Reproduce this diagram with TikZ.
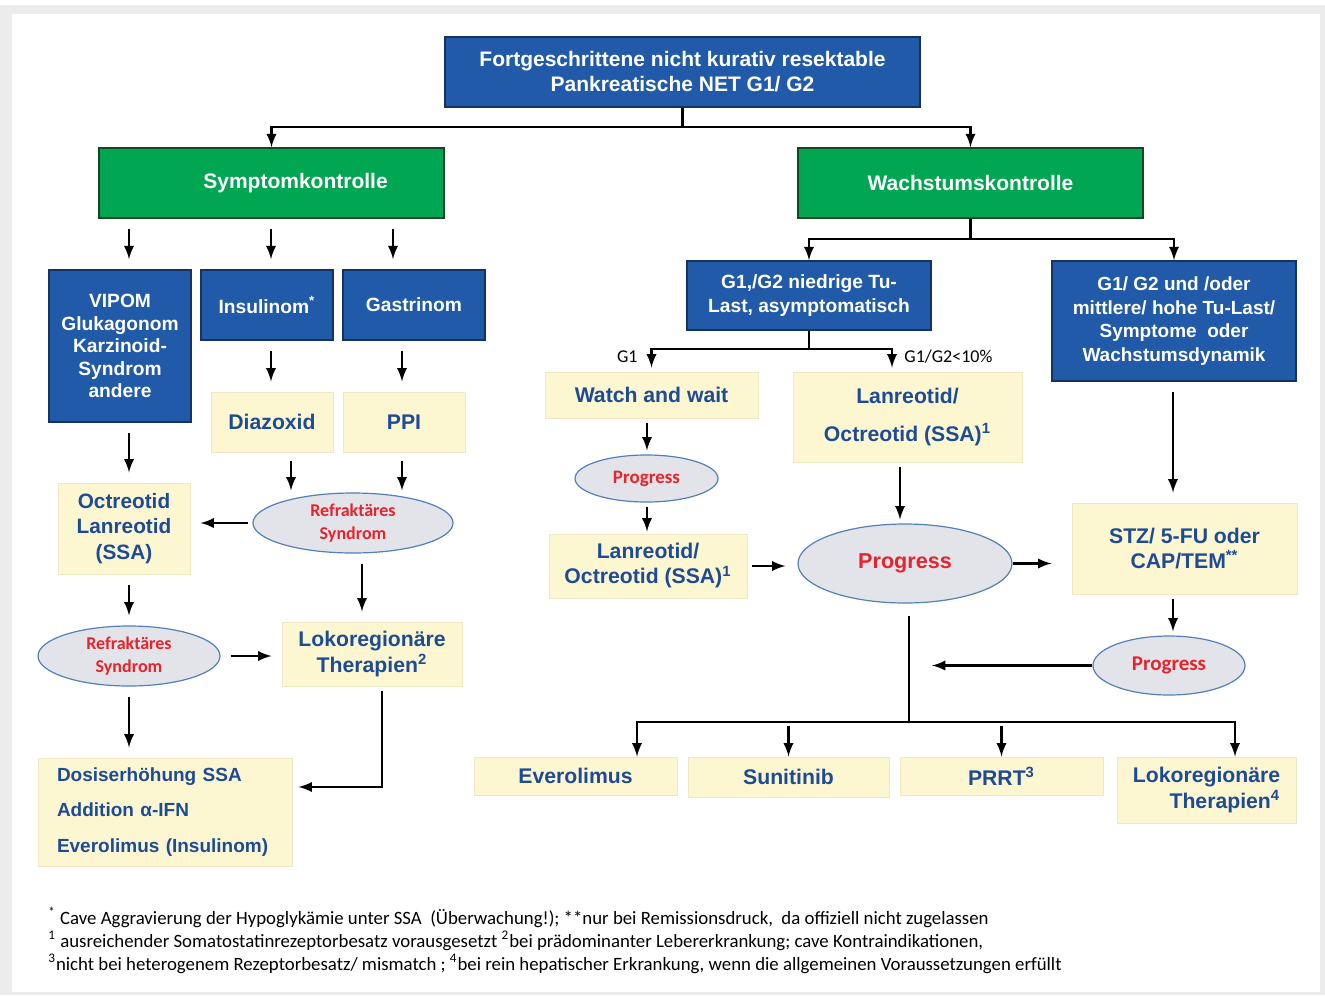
\documentclass[tikz,border=0pt]{standalone}
\usepackage{fontspec}
\setmainfont{Liberation Sans}
\newfontfamily\cbri{Carlito}
\usetikzlibrary{calc,shapes.geometric}

\definecolor{framegray}{RGB}{236,236,236}
\definecolor{boxblue}{RGB}{32,90,168}
\definecolor{boxline}{RGB}{22,50,96}
\definecolor{boxgreen}{RGB}{0,166,81}
\definecolor{greenline}{RGB}{22,70,40}
\definecolor{boxyellow}{RGB}{252,247,208}
\definecolor{yellowline}{RGB}{238,232,196}
\definecolor{textblue}{RGB}{30,75,150}
\definecolor{ellfill}{RGB}{226,228,233}
\definecolor{ellline}{RGB}{84,128,186}
\definecolor{textred}{RGB}{232,35,45}

\begin{document}
\begin{tikzpicture}[x=0.5pt,y=-0.5pt,>=latex,
      every node/.style={inner sep=0pt,align=center},
      hbox/.style={rectangle,draw=boxline,fill=boxblue,text=white,line width=0.8pt,
        font=\bfseries\fontsize{9.6}{11.3}\selectfont},
      gbox/.style={rectangle,draw=greenline,fill=boxgreen,text=white,line width=0.8pt,
        font=\bfseries\fontsize{10.5}{12.5}\selectfont},
      ybox/.style={rectangle,draw=yellowline,fill=boxyellow,text=textblue,line width=0.5pt,
        font=\bfseries\fontsize{10.6}{12.6}\selectfont},
      ebox/.style={ellipse,draw=ellline,fill=ellfill,text=textred,line width=0.6pt,
        font=\cbri\bfseries\fontsize{9}{11.5}\selectfont},
      arr/.style={->,line width=1.3pt},
      gap/.style={shorten <=5pt,shorten >=5pt}]

    \useasboundingbox (0,0) rectangle (1325,995);
    \fill[framegray] (0,0) rectangle (1325,995);
    \fill[white] (0,0) rectangle (1325,5);
    \fill[white] (12,14) rectangle (1320,992);

    \node[hbox,minimum width=237.5pt,minimum height=35pt,font=\bfseries\fontsize{10.5}{12.5}\selectfont] (top) at (682.5,72)
      {Fortgeschrittene nicht kurativ resektable\\Pankreatische NET G1/ G2};
    \node[gbox,minimum width=172.5pt,minimum height=35pt] (symp) at (271.5,183) {\hspace*{24pt}Symptomkontrolle};
    \node[gbox,minimum width=172.5pt,minimum height=35pt] (wachs) at (970.5,183) {Wachstumskontrolle};

    \node[hbox,minimum width=71pt,minimum height=76pt] (vipom) at (120,346) {VIPOM\\Glukagonom\\Karzinoid-\\Syndrom\\andere};
    \node[hbox,minimum width=66pt,minimum height=35pt] (insul) at (267,305) {Insulinom\textsuperscript{*}};
    \node[hbox,minimum width=71pt,minimum height=35pt] (gastr) at (414,305) {Gastrinom};
    \node[ybox,minimum width=61pt,minimum height=30pt] (diaz) at (272,422) {Diazoxid};
    \node[ybox,minimum width=61pt,minimum height=30pt] (ppi) at (404,422) {PPI};
    \node[ebox,minimum width=100pt,minimum height=30pt] (refrA) at (353,523) {Refraktäres\\Syndrom};
    \node[ybox,minimum width=66pt,minimum height=45.5pt,font=\bfseries\fontsize{10.4}{12.75}\selectfont] (octr) at (124,528.5)
      {Octreotid\\Lanreotid\\(SSA)};
    \node[ebox,minimum width=91pt,minimum height=30pt] (refrB) at (129,656) {Refraktäres\\Syndrom};
    \node[ybox,minimum width=90pt,minimum height=32pt,font=\bfseries\fontsize{10.6}{13}\selectfont] (lokoA) at (372,654)
      {Lokoregionäre\\Therapien\textsuperscript{2}};
    \node[ybox,minimum width=127pt,minimum height=54pt,text width=108pt,align=left,
      font=\bfseries\fontsize{9.5}{17.75}\selectfont] (dosis) at (165,812)
      {Dosiserhöhung SSA\\Addition α-IFN\\Everolimus (Insulinom)};

    \node[hbox,minimum width=122pt,minimum height=34.5pt,font=\bfseries\fontsize{9.6}{12}\selectfont] (nied) at (809,295.5)
      {G1,/G2 niedrige Tu-\\Last, asymptomatisch};
    \node[hbox,minimum width=122pt,minimum height=60pt,font=\bfseries\fontsize{9.5}{11.8}\selectfont] (mittl) at (1174,321)
      {G1/ G2 und /oder\\mittlere/ hohe Tu-Last/\\Symptome\ \ oder\\Wachstumsdynamik};
    \node[ybox,minimum width=106.5pt,minimum height=23pt] (watch) at (651.5,395) {Watch and wait};
    \node[ybox,minimum width=114.5pt,minimum height=45pt] (lanA) at (907.5,417) {Lanreotid/\\[6pt]Octreotid (SSA)\textsuperscript{1}};
    \node[ebox,minimum width=71.5pt,minimum height=23.5pt,font=\cbri\bfseries\fontsize{9.5}{11.5}\selectfont] (progA) at (646.5,478.5) {Progress};
    \node[ybox,minimum width=99pt,minimum height=32pt,font=\bfseries\fontsize{10.6}{12.5}\selectfont] (lanB) at (648,566)
      {Lanreotid/\\Octreotid (SSA)\textsuperscript{1}};
    \node[ebox,minimum width=107pt,minimum height=39.5pt,font=\bfseries\fontsize{10.8}{12}\selectfont] (progB) at (905,563.5) {Progress};
    \node[ybox,minimum width=112.5pt,minimum height=45.5pt] (stz) at (1184.5,548.5) {STZ/ 5-FU oder\\CAP/TEM\textsuperscript{**}};
    \node[ebox,minimum width=76pt,minimum height=29.5pt,font=\cbri\bfseries\fontsize{10.5}{12}\selectfont] (progC) at (1169,665.5) {Progress};
    \node[ybox,minimum width=101.5pt,minimum height=19pt] (ever) at (575.5,776) {Everolimus};
    \node[ybox,minimum width=100.5pt,minimum height=20pt] (suni) at (788.5,777) {Sunitinib};
    \node[ybox,minimum width=101.5pt,minimum height=19pt] (prrt) at (1001.5,776) {PRRT\textsuperscript{3}};
    \node[ybox,minimum width=89.5pt,minimum height=33pt,align=right] (lokoB) at (1206.5,790) {Lokoregionäre\\Therapien\textsuperscript{4}};

    \node[font=\cbri\fontsize{9}{10}\selectfont,anchor=east] (lblA) at (638,357) {G1};
    \node[font=\cbri\fontsize{9}{10}\selectfont,anchor=west] (lblB) at (904,357) {G1/G2<10\%};

    \node[anchor=north west,align=left,font=\cbri\fontsize{9.4}{11.5}\selectfont] (notes) at (48,907)
      {\textsuperscript{*} Cave Aggravierung der Hypoglykämie unter SSA\ \ (Überwachung!); **nur bei Remissionsdruck,\ \ da offiziell nicht zugelassen\\
       \textsuperscript{1} ausreichender Somatostatinrezeptorbesatz vorausgesetzt \textsuperscript{2}bei prädominanter Lebererkrankung; cave Kontraindikationen,\\
       \textsuperscript{3}nicht bei heterogenem Rezeptorbesatz/ mismatch ; \textsuperscript{4}bei rein hepatischer Erkrankung, wenn die allgemeinen Voraussetzungen erfüllt};

    \coordinate (j1) at (682.5,127);
    \draw[arr] (top.south) -- (j1) -| (symp.north);
    \draw[arr] (j1) -| (wachs.north);

    \coordinate (cA) at (129,0);
    \coordinate (cB) at (271,0);
    \coordinate (cC) at (393,0);
    \coordinate (cD) at (291,0);
    \coordinate (cE) at (402,0);
    \coordinate (cF) at (362,0);
    \draw[arr,gap] (symp.south -| cA) -- (vipom.north -| cA);
    \draw[arr,gap] (symp.south -| cB) -- (insul.north -| cB);
    \draw[arr,gap] (symp.south -| cC) -- (gastr.north -| cC);
    \draw[arr,gap] (insul.south -| cB) -- (diaz.north -| cB);
    \draw[arr,gap] (gastr.south -| cE) -- (ppi.north -| cE);
    \draw[arr,shorten <=4pt,shorten >=1pt] (diaz.south -| cD) -- (refrA.north -| cD);
    \draw[arr,shorten <=4pt,shorten >=1pt] (ppi.south -| cE) -- (refrA.north -| cE);
    \draw[arr,shorten <=2pt,shorten >=5pt] (refrA.west) -- (refrA.west -| octr.east);
    \draw[arr,gap] (vipom.south -| cA) -- (octr.north -| cA);
    \draw[arr,gap] (octr.south -| cA) -- (refrB.north -| cA);
    \draw[arr,gap] (refrB.east) -- (refrB.east -| lokoA.west);
    \draw[arr,gap] (refrA.south -| cF) -- (lokoA.north -| cF);
    \draw[arr,gap] (refrB.south -| cA) -- (dosis.north -| cA);
    \coordinate (j2) at (382,787);
    \draw[arr,shorten <=2pt,shorten >=3pt] (lokoA.south -| j2) -- (j2) -- (j2 -| dosis.east);

    \coordinate (j3) at (970.5,239);
    \draw[arr] (wachs.south) -- (j3) -| (nied.north);
    \draw[arr] (j3) -| (mittl.north);
    \coordinate (j4) at (809,349);
    \coordinate (cG) at (892,0);
    \draw[arr,shorten >=2pt] (nied.south) -- (j4) -| (watch.north);
    \draw[arr,shorten >=2pt] (j4) -| (lanA.north -| cG);
    \coordinate (cH) at (647,0);
    \draw[arr,shorten <=2pt,shorten >=2pt] (watch.south -| cH) -- (progA.north -| cH);
    \draw[arr,shorten <=2pt,shorten >=1pt] (progA.south -| cH) -- (lanB.north -| cH);
    \draw[arr,shorten <=2pt,shorten >=6pt] (lanB.east) -- (lanB.east -| progB.west);
    \coordinate (cI) at (900,0);
    \draw[arr,shorten <=2pt,shorten >=2pt] (lanA.south -| cI) -- (progB.north -| cI);
    \draw[arr,shorten >=10pt] (progB.east) -- (progB.east -| stz.west);
    \coordinate (cJ) at (1173,0);
    \draw[arr,gap] (mittl.south -| cJ) -- (stz.north -| cJ);
    \draw[arr,shorten <=2pt,shorten >=2pt] (stz.south -| cJ) -- (progC.north -| cJ);
    \coordinate (m1) at (932,665.5);
    \draw[arr] (progC.west) -- (m1);

    \coordinate (j5) at (909,722);
    \coordinate (cK) at (637,0);
    \coordinate (cL) at (1235,0);
    \draw[line width=1.3pt,shorten <=6pt] (progB.south -| j5) -- (j5);
    \draw[arr] (j5) -| (ever.north -| cK);
    \draw[arr] (j5) -| (lokoB.north -| cL);
    \draw[arr,shorten <=2pt] (suni.north |- j5) -- (suni.north);
    \draw[arr,shorten <=2pt] (prrt.north |- j5) -- (prrt.north);
  \end{tikzpicture}
\end{document}
